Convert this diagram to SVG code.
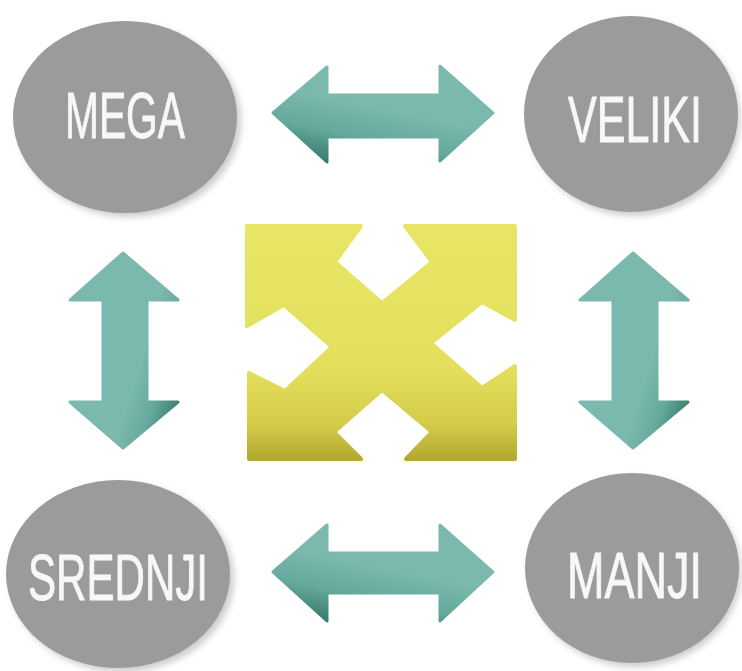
<svg xmlns="http://www.w3.org/2000/svg" width="742" height="671" viewBox="0 0 742 671">
<defs>
<style>
.node{fill:#9b9b9b}
.shadow{fill:#cdcdcd;filter:url(#blur)}
.lbl{font-family:"Liberation Sans",Arial,sans-serif;font-size:64px;fill:#f7f7f7;stroke:#f7f7f7;stroke-width:0.9}
.harrow{fill:url(#gh);stroke:url(#gh);stroke-width:3;stroke-linejoin:round}
.varrow{fill:url(#gv);stroke:url(#gv);stroke-width:3;stroke-linejoin:round}
</style>
<filter id="blur" x="-10%" y="-10%" width="120%" height="120%"><feGaussianBlur stdDeviation="3"/></filter>
<linearGradient id="gh" x1="0" y1="1" x2="0.3" y2="0.35">
<stop offset="0" stop-color="#276c5c"/>
<stop offset="0.55" stop-color="#64a89c"/>
<stop offset="1" stop-color="#7bb8ae"/>
</linearGradient>
<linearGradient id="gv" x1="1" y1="1" x2="0.55" y2="0.75">
<stop offset="0" stop-color="#276c5c"/>
<stop offset="0.6" stop-color="#66a99d"/>
<stop offset="1" stop-color="#7bb8ae"/>
</linearGradient>
<linearGradient id="gy" x1="0" y1="0" x2="0" y2="1">
<stop offset="0" stop-color="#e8e566"/>
<stop offset="0.6" stop-color="#e4e05e"/>
<stop offset="0.85" stop-color="#d4cc4a"/>
<stop offset="1" stop-color="#b2aa30"/>
</linearGradient>
</defs>
<rect width="742" height="671" fill="#ffffff"/>

<g id="connectors">
<path class="harrow" d="M273,113 L327,67 L327,95 L440,95 L440,66 L493,113 L440,161 L440,137 L327,137 L327,162 Z"/>
<path class="harrow" d="M273,572 L327,525 L327,553 L440,553 L440,525 L493,572 L440,621 L440,593 L327,593 L327,621 Z"/>
<path class="varrow" d="M123,253 L178,300 L147,300 L147,402 L178,402 L123,448 L70,402 L103,402 L103,300 L70,300 Z"/>
<path class="varrow" d="M633,253 L688,300 L657,300 L657,402 L688,402 L633,448 L580,402 L613,402 L613,300 L580,300 Z"/>
</g>

<g id="center-x">
<polygon fill="url(#gy)" stroke="url(#gy)" stroke-width="4" stroke-linejoin="round" points="247,226 361,226 335,262 382,303 432,262 405,226 515,226 515,320 482,302 431,343 482,388 515,366 515,459 406,459 432,432 382,390 334,432 361,459 249,459 249,373 285,391 332,347 284,305 247,326"/>
</g>

<g id="node-mega">
<ellipse class="shadow" cx="129" cy="121" rx="112" ry="96"/>
<ellipse class="node" cx="125" cy="117" rx="112" ry="96"/>
<text class="lbl" x="65" y="138" textLength="120" lengthAdjust="spacingAndGlyphs">MEGA</text>
</g>

<g id="node-veliki">
<ellipse class="shadow" cx="634" cy="118" rx="106" ry="98"/>
<ellipse class="node" cx="631" cy="114" rx="107" ry="98"/>
<text class="lbl" x="568" y="142" textLength="134" lengthAdjust="spacingAndGlyphs">VELIKI</text>
</g>

<g id="node-srednji">
<ellipse class="shadow" cx="122" cy="578" rx="112" ry="94"/>
<ellipse class="node" cx="118" cy="574" rx="112" ry="94"/>
<text class="lbl" x="28" y="600" textLength="180" lengthAdjust="spacingAndGlyphs">SREDNJI</text>
</g>

<g id="node-manji">
<ellipse class="shadow" cx="635" cy="572" rx="106" ry="95"/>
<ellipse class="node" cx="632" cy="568" rx="107" ry="95"/>
<text class="lbl" x="567" y="598" textLength="135" lengthAdjust="spacingAndGlyphs">MANJI</text>
</g>
</svg>
